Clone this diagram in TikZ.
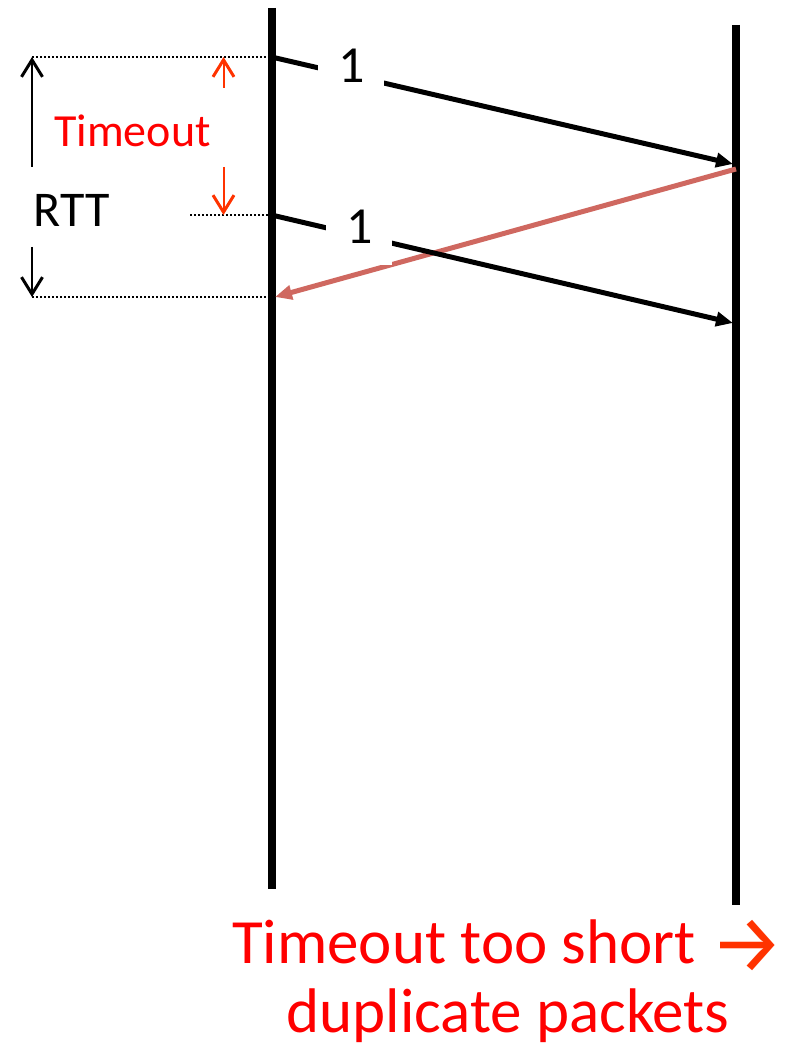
\documentclass[tikz,border=0pt]{standalone}
\usepackage{fontspec}
\setmainfont{Carlito}
\newfontfamily\arrowfont{Fira Sans}
\usetikzlibrary{arrows.meta}
\definecolor{ackred}{RGB}{207,104,96}
\definecolor{tored}{RGB}{255,51,0}
\tikzset{
	tri/.tip={Triangle[length=17pt,width=14pt]},
	barb/.tip={Straight Barb[length=17pt,width=21pt,line width=3pt]},
	lifeline/.style={line width=8pt},
	pkt/.style={line width=5pt, -tri},
	ack/.style={line width=5pt, ackred, -tri},
	guide/.style={line width=1.5pt, dash pattern=on 1.5pt off 2.5pt},
	% sequence number sitting on a packet line
	seqno/.style={fill=white, inner sep=0pt, minimum width=66pt, minimum height=58pt,
		font=\fontsize{52}{52}\selectfont},
	big/.style={inner sep=0pt, font=\fontsize{#1}{#1}\selectfont},
}

\begin{document}
\begin{tikzpicture}[x=1pt, y=-1pt]
	\useasboundingbox (0,0) rectangle (784,1048);
	% Lifelines
	\coordinate (stop) at (271.5,8);
	\coordinate (sbot) at (271.5,889);
	\coordinate (rtop) at (736,25);
	\coordinate (rbot) at (736,905);
	\draw[lifeline] (stop) -- (sbot);
	\draw[lifeline] (rtop) -- (rbot);
	
	% Packets and ack
	\coordinate (s1) at (271.5,57);
	\coordinate (r1) at (733,164);
	\coordinate (s2) at (271.5,215);
	\coordinate (r2) at (733,323);
	\coordinate (ra) at (736,169);
	\coordinate (sa) at (275,297);
	\draw[pkt] (s1) -- node[seqno, pos=0.173] (seq1) {\raisebox{-6.5pt}[0pt][0pt]{1}} (r1);
	\draw[ack] (ra) -- (sa);
	\draw[pkt] (s2) -- node[seqno, pos=0.19] (seq2) {\raisebox{-7.5pt}[0pt][0pt]{1}} (r2);
	
	% Guides
	\coordinate (rtt top) at (32,57);
	\coordinate (to bot) at (190,215);
	\coordinate (rtt bot) at (32,297);
	\draw[guide] (rtt top) -- (s1);
	\draw[guide] (to bot) -- (s2);
	\draw[guide] (rtt bot) -- (sa);
	
	% RTT span
	\node[big=50, anchor=base] (rtt) at (71.5,227) {RTT};
	\draw[line width=1.5pt, -barb] (32,167) -- (rtt top);
	\draw[line width=1.5pt, -barb] (32,247) -- (rtt bot);
	
	% Timeout span
	\node[big=46, anchor=base, text=red] (timeout) at (132.5,147) {Timeout};
	\draw[line width=2pt, tored, -barb] (223.5,88) -- (223.5,57);
	\draw[line width=2pt, tored, -barb] (223.5,167) -- (223.5,215);
	
	% Conclusion
	\node[big=63, anchor=base, align=center, text=red, font=\fontsize{63}{69}\selectfont] (concl) at (508,1032)
		{Timeout too short \raisebox{-9pt}[0pt][0pt]{\fontsize{82}{69}\arrowfont\color{tored}→}\\duplicate packets};
\end{tikzpicture}
\end{document}
